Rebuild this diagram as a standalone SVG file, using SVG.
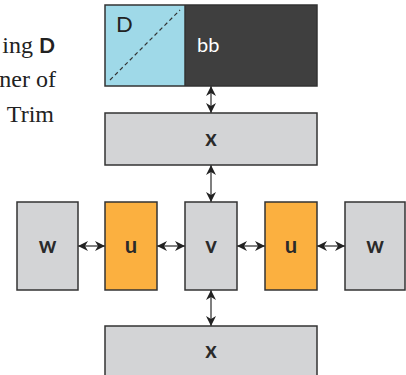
<svg xmlns="http://www.w3.org/2000/svg" width="406" height="375" viewBox="0 0 406 375">
<style>
.box{stroke:#333;stroke-width:1.5}
.g{fill:#d3d4d6}
.o{fill:#fbb040}
.lbl{font-family:"Lato","Liberation Sans",sans-serif;font-weight:bold;font-size:22px;fill:#2a2a2a;text-anchor:middle}
.ser{font-family:"Liberation Serif",serif;font-size:24px;fill:#222}
.conn{stroke:#555;stroke-width:1.5;fill:none;marker-start:url(#ah);marker-end:url(#ah)}
</style>
<defs>
<marker id="ah" viewBox="0 0 10 10" refX="10" refY="5" markerWidth="10" markerHeight="10" markerUnits="userSpaceOnUse" orient="auto-start-reverse">
<path d="M0,0 L10,5 L0,10 L3,5 z" fill="#222"/>
</marker>
</defs>
<rect width="406" height="375" fill="#fff"/>
<g id="side-text">
<text class="ser" x="55" y="53" text-anchor="end">ing <tspan font-family="Lato,'Liberation Sans',sans-serif" font-weight="bold" font-size="21">D</tspan></text>
<text class="ser" x="56" y="87" text-anchor="end">ner of</text>
<text class="ser" x="54" y="122" text-anchor="end">Trim</text>
</g>
<g id="connectors">
<line class="conn" x1="211" y1="86" x2="211" y2="113"/>
<line class="conn" x1="211" y1="165" x2="211" y2="202"/>
<line class="conn" x1="211" y1="290" x2="211" y2="326"/>
<line class="conn" x1="78" y1="246" x2="105" y2="246"/>
<line class="conn" x1="157" y1="246" x2="185" y2="246"/>
<line class="conn" x1="237" y1="246" x2="265" y2="246"/>
<line class="conn" x1="317" y1="246" x2="345" y2="246"/>
</g>
<g id="top">
<rect x="105" y="5" width="80" height="81" fill="#9fd9e8"/>
<rect x="185" y="5" width="132" height="81" fill="#3f3f3f"/>
<rect class="box" x="105" y="5" width="212" height="81" fill="none"/>
<line x1="185" y1="5" x2="185" y2="86" stroke="#333" stroke-width="1.5"/>
<line x1="110" y1="80" x2="180" y2="10" stroke="#333" stroke-width="1.2" stroke-dasharray="4,3"/>
<text x="116" y="32" font-family="Lato,'Liberation Sans',sans-serif" font-size="22" fill="#222">D</text>
<text x="197" y="52" font-family="Lato,'Liberation Sans',sans-serif" font-size="20" fill="#fff">bb</text>
</g>
<g id="x-top"><rect class="box g" x="105" y="113" width="212" height="52"/><text class="lbl" x="211" y="146">x</text></g>
<g id="w-left"><rect class="box g" x="17" y="202" width="61" height="88"/><text class="lbl" x="47.5" y="253">w</text></g>
<g id="u-left"><rect class="box o" x="105" y="202" width="52" height="88"/><text class="lbl" x="131" y="253">u</text></g>
<g id="v"><rect class="box g" x="185" y="202" width="52" height="88"/><text class="lbl" x="211" y="253">v</text></g>
<g id="u-right"><rect class="box o" x="265" y="202" width="52" height="88"/><text class="lbl" x="291" y="253">u</text></g>
<g id="w-right"><rect class="box g" x="345" y="202" width="60" height="88"/><text class="lbl" x="375" y="253">w</text></g>
<g id="x-bottom"><rect class="box g" x="105" y="326" width="212" height="60"/><text class="lbl" x="211" y="358">x</text></g>
</svg>
